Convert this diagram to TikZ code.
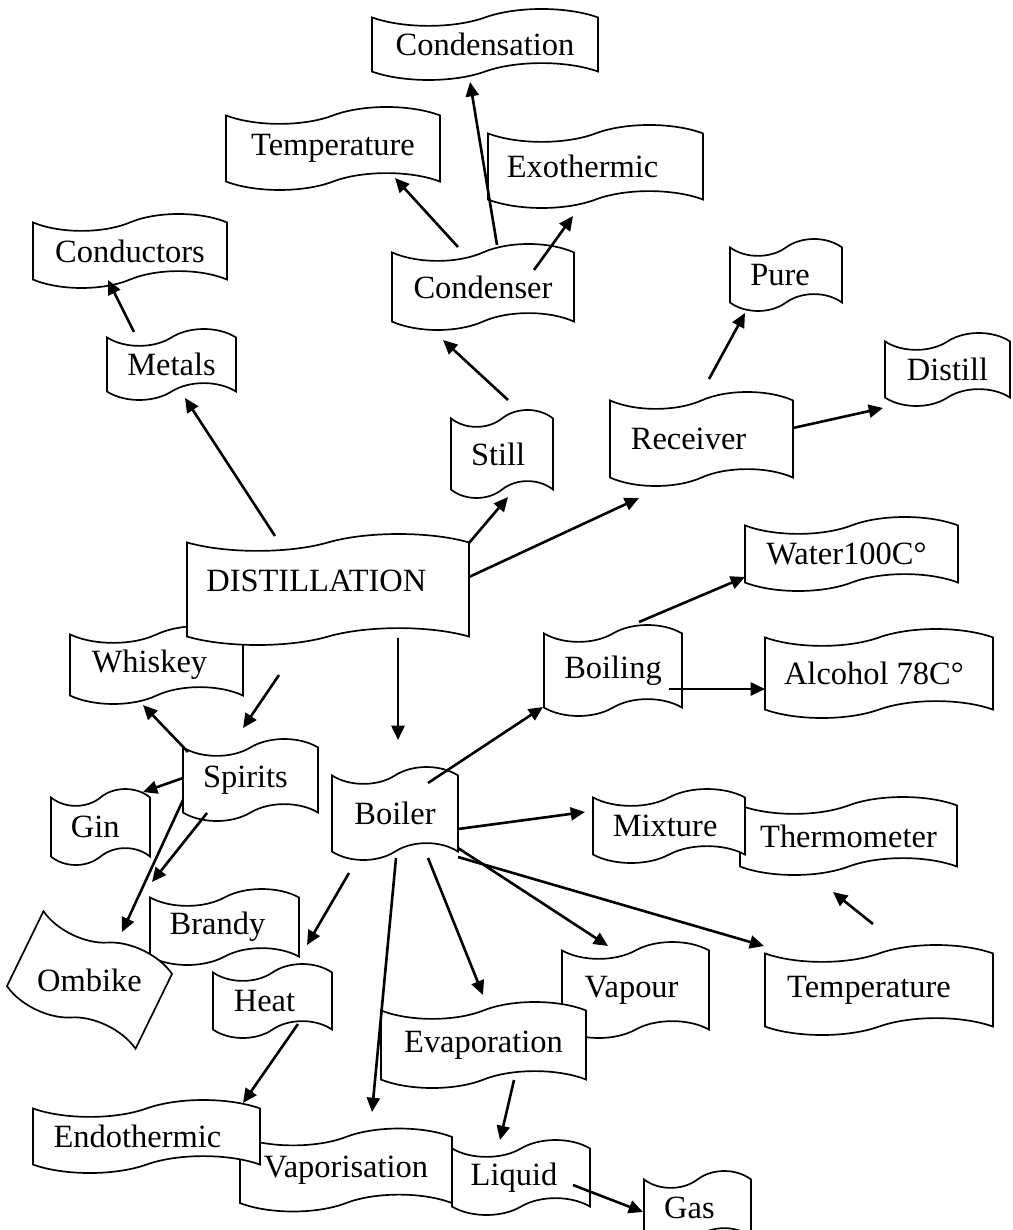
\documentclass[tikz,border=0pt]{standalone}
\usepackage{fontspec}
\setmainfont{Liberation Serif}
\usepackage{tikz}
\usetikzlibrary{arrows.meta}
\usetikzlibrary{shapes.symbols}
\usetikzlibrary{calc}

\newcommand{\wpx}{0.385pt}

\tikzset{
  wave/.style={tape, draw, fill=white, line width=0.65pt, inner sep=0pt,
    tape bend height=6.5pt, font=\fontsize{12.5pt}{15pt}\selectfont},
  wsize/.style 2 args={minimum width=#1*\wpx, minimum height=#2*\wpx},
  tleft/.style={execute at begin node={\hspace*{-#1}}},
  arr/.style={-{Triangle[length=5.5pt,width=5pt]}, line width=1pt}
}

\begin{document}
\begin{tikzpicture}[x=\wpx,y=-\wpx]
\useasboundingbox (0,0) rectangle (1012,1230);

% upper branch
\node[wave,wsize={226}{71}] (condensation) at (485,44.5) {Condensation};
\node[wave,wsize={214}{83}] (temptop) at (333,148.5) {Temperature};
\node[wave,wsize={215}{83},tleft=10pt] (exothermic) at (595.5,166.5) {Exothermic};
\node[wave,wsize={194}{74}] (conductors) at (130,251) {Conductors};
\node[wave,wsize={129}{71}] (metals) at (171.5,364.5) {Metals};
\node[wave,wsize={182}{86}] (condenser) at (483,287) {Condenser};
\node[wave,wsize={112}{72},tleft=4.6pt] (pure) at (786,275) {Pure};
\node[wave,wsize={125}{73}] (distill) at (947.5,369.5) {Distill};
\node[wave,wsize={102}{88},tleft=3pt] (still) at (502,454) {Still};
\node[wave,wsize={183}{94},tleft=10pt] (receiver) at (701.5,439) {Receiver};

% centre
\node[wave,wsize={173}{78},tleft=5.4pt] (whiskey) at (156.5,665) {Whiskey};
\node[wave,wsize={282}{111},text depth=7pt,tleft=9pt] (distillation) at (328,589.5) {DISTILLATION};
\node[wave,wsize={135}{82},tleft=3.9pt] (spirits) at (250.5,780) {Spirits};
\node[wave,wsize={126}{93}] (boiler) at (395,813.5) {Boiler};
\node[wave,wsize={138}{91}] (boiling) at (613,670.5) {Boiling};
\node[wave,wsize={213}{74},tleft=3.9pt] (water) at (851.5,554) {Water100C°};
\node[wave,wsize={228}{89},tleft=3.9pt] (alcohol) at (879,673.5) {Alcohol 78C°};
\node[wave,wsize={217}{78}] (thermometer) at (848.5,836) {Thermometer};
\node[wave,wsize={152}{74},tleft=3pt] (mixture) at (669,826) {Mixture};

% lower branch
\node[wave,wsize={99}{76},tleft=4pt] (gin) at (100.5,827) {Gin};
\node[wave,wsize={149}{76},tleft=5.4pt] (brandy) at (224.5,927) {Brandy};
\node[wave,wsize={143}{73},rotate=-26] (ombike) at (89.5,980) {\rotatebox{26}{Ombike}};
\node[wave,wsize={119}{74},tleft=6.2pt] (heat) at (272.5,1001) {Heat};
\node[wave,wsize={228}{90},tleft=7.7pt] (tempbot) at (879,990) {Temperature};
\node[wave,wsize={147}{96},tleft=3pt] (vapour) at (635.5,990) {Vapour};
\node[wave,wsize={205}{86}] (evaporation) at (483.5,1045) {Evaporation};
\node[wave,wsize={107}{74},tleft=6.2pt] (gas) at (697.5,1208) {Gas};
\node[wave,wsize={138}{75},tleft=5.4pt] (liquid) at (521,1177.5) {Liquid};
\node[wave,wsize={212}{83}] (vaporisation) at (346,1170) {Vaporisation};
\node[wave,wsize={227}{73},tleft=7pt] (endothermic) at (146.5,1136.5) {Endothermic};

% arrows
\draw[arr] ($(distillation)+(-53,-53.5)$) -- ($(metals)+(13.5,33.5)$);
\draw[arr] ($(metals)+(-37.5,-32.5)$) -- ($(conductors)+(-22,29)$);
\draw[arr] ($(condenser)+(-25,-40)$) -- ($(temptop)+(62,29.5)$);
\draw[arr] ($(condenser)+(14,-42)$) -- ($(condensation)+(-15,37.5)$);
\draw[arr] ($(condenser)+(51,-17)$) -- ($(exothermic)+(-22.5,49.5)$);
\draw[arr] ($(still)+(6,-54)$) -- ($(condenser)+(-40,53)$);
\draw[arr] ($(distillation)+(141,-46.5)$) -- ($(still)+(6,43)$);
\draw[arr] ($(distillation)+(141,-12.5)$) -- ($(receiver)+(-62.5,59)$);
\draw[arr] ($(receiver)+(7.5,-60)$) -- ($(pure)+(-41,38)$);
\draw[arr] ($(receiver)+(91.5,-11)$) -- ($(distill)+(-64.5,38.5)$);
\draw[arr] ($(distillation)+(70,48.5)$) -- ($(boiler)+(3,-73.5)$);
\draw[arr] ($(distillation)+(-49,85.5)$) -- ($(spirits)+(-7.5,-52)$);
\draw[arr] ($(spirits)+(-62.5,-28)$) -- ($(whiskey)+(-13.5,40)$);
\draw[arr] ($(spirits)+(-67.5,-2)$) -- ($(gin)+(42.5,-35)$);
\draw[arr] ($(spirits)+(-43.5,33)$) -- ($(brandy)+(-72.5,-45)$);
\draw[arr] ($(spirits)+(-67.5,20)$) -- ($(ombike)+(32.5,-48)$);
\draw[arr] ($(boiler)+(33,-30.5)$) -- ($(boiling)+(-70,36.5)$);
\draw[arr] ($(boiler)+(63,15.5)$) -- ($(mixture)+(-84,-14)$);
\draw[arr] ($(boiler)+(-46,59.5)$) -- ($(heat)+(34.5,-56)$);
\draw[arr] ($(boiler)+(1,44.5)$) -- ($(vaporisation)+(26,-58)$);
\draw[arr] ($(boiler)+(33,44.5)$) -- ($(evaporation)+(-0.5,-50)$);
\draw[arr] ($(boiler)+(63,34.5)$) -- ($(vapour)+(-27.5,-44)$);
\draw[arr] ($(boiler)+(63,43.5)$) -- ($(tempbot)+(-115,-44)$);
\draw[arr] ($(tempbot)+(-6,-66)$) -- ($(thermometer)+(-15.5,56)$);
\draw[arr] ($(heat)+(25.5,23)$) -- ($(endothermic)+(96.5,-33.5)$);
\draw[arr] ($(evaporation)+(30.5,35)$) -- ($(liquid)+(-21,-37.5)$);
\draw[arr] ($(boiling)+(56,18.5)$) -- ($(alcohol)+(-114,15.5)$);
\draw[arr] ($(boiling)+(26,-48.5)$) -- ($(water)+(-106.5,23)$);
\draw[arr] ($(liquid)+(52,7.5)$) -- ($(gas)+(-54.5,4)$);
\end{tikzpicture}
\end{document}
